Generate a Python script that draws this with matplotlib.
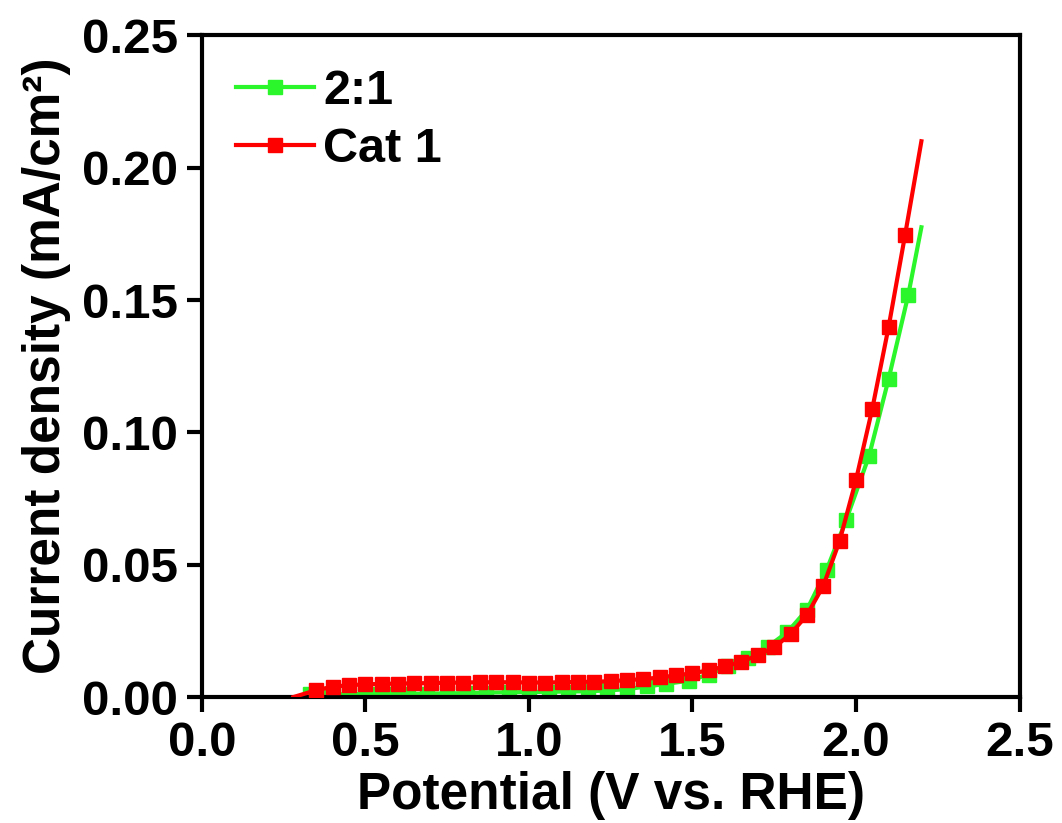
import matplotlib
matplotlib.use("Agg")
import matplotlib.pyplot as plt

# Cat 1 (red) data
cat1_x = [0.28, 0.35, 0.40, 0.45, 0.50, 0.55, 0.60, 0.65, 0.70, 0.75, 0.80, 0.85, 0.90,
          0.95, 1.00, 1.05, 1.10, 1.15, 1.20, 1.25, 1.30, 1.35, 1.40, 1.45, 1.50,
          1.55, 1.60, 1.65, 1.70, 1.75, 1.80, 1.85, 1.90, 1.95, 2.00, 2.05, 2.10,
          2.15, 2.20]
cat1_y = [0.0000, 0.0026, 0.0039, 0.0045, 0.0048, 0.0050, 0.0051, 0.0052, 0.0053, 0.0054,
          0.0055, 0.0056, 0.0056, 0.0056, 0.0055, 0.0055, 0.0056, 0.0057, 0.0058,
          0.0060, 0.0064, 0.0068, 0.0074, 0.0082, 0.0090, 0.0101, 0.0116, 0.0134,
          0.0158, 0.0188, 0.0238, 0.0310, 0.0420, 0.0590, 0.0820, 0.1090, 0.1400,
          0.1745, 0.2100]

# 2:1 (green) data
r21_x = [0.30, 0.33, 0.39, 0.45, 0.51, 0.57, 0.63, 0.69, 0.75, 0.81, 0.87, 0.94, 1.00,
         1.06, 1.12, 1.18, 1.24, 1.30, 1.36, 1.42, 1.49, 1.55, 1.61, 1.67, 1.73,
         1.79, 1.85, 1.91, 1.97, 2.04, 2.10, 2.16, 2.20]
r21_y = [0.0000, 0.0012, 0.0010, 0.0011, 0.0012, 0.0012, 0.0012, 0.0013, 0.0014, 0.0015,
         0.0017, 0.0018, 0.0019, 0.0020, 0.0021, 0.0022, 0.0025, 0.0030, 0.0040,
         0.0050, 0.0062, 0.0085, 0.0118, 0.0148, 0.0190, 0.0245, 0.0330, 0.0480,
         0.0669, 0.0911, 0.1203, 0.1520, 0.1775]

series_labels = ["2:1", "Cat 1"]
x_ticks = [0.0, 0.5, 1.0, 1.5, 2.0, 2.5]
y_ticks = [0.00, 0.05, 0.10, 0.15, 0.20, 0.25]

plt.rcParams['font.family'] = ['Liberation Sans', 'DejaVu Sans']
plt.rcParams['font.weight'] = 'bold'

fig = plt.figure(figsize=(10.62, 8.23), dpi=100)
ax = fig.add_axes([0.190, 0.153, 0.770, 0.804])

ax.plot(r21_x, r21_y, color='#2BF52B', lw=3, marker='s', ms=10,
        markevery=list(range(1, len(r21_x) - 1)), label=series_labels[0], zorder=2)
ax.plot(cat1_x, cat1_y, color='#FF0000', lw=3, marker='s', ms=10,
        markevery=list(range(1, len(cat1_x) - 1)), label=series_labels[1], zorder=3)

ax.set_xlim(0, 2.5)
ax.set_ylim(0, 0.25)
ax.set_xticks(x_ticks)
ax.set_yticks(y_ticks)
ax.set_xticklabels([f"{v:.1f}" for v in x_ticks])
ax.set_yticklabels([f"{v:.2f}" for v in y_ticks])

for s in ax.spines.values():
    s.set_linewidth(3)
ax.tick_params(axis='both', direction='out', length=11, width=3, labelsize=35.5, pad=6)

ax.set_xlabel("Potential (V vs. RHE)", fontsize=37, fontweight='bold', labelpad=4)
ax.set_ylabel("Current density (mA/cm²)", fontsize=37, fontweight='bold', labelpad=8)

leg = ax.legend(loc='upper left', frameon=False, fontsize=35, handlelength=1.6,
                handletextpad=0.2, borderaxespad=0.3, labelspacing=0.25,
                bbox_to_anchor=(0.0, 1.0))
for t in leg.get_texts():
    t.set_fontweight('bold')

fig.savefig("out.png", dpi=100)
